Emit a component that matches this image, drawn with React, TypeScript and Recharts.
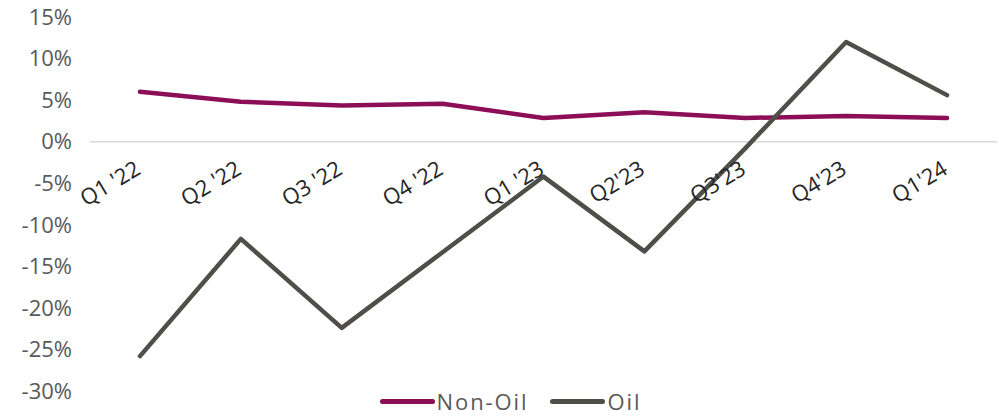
import React from "react";
import { LineChart, Line, XAxis, YAxis, ReferenceLine, Legend } from "recharts";

const categories = ["Q1 '22", "Q2 '22", "Q3 '22", "Q4 '22", "Q1 '23", "Q2'23", "Q3'23", "Q4'23", "Q1'24"];
const nonOil = [6.0, 4.8, 4.35, 4.55, 2.85, 3.55, 2.85, 3.1, 2.85];
const oil = [-25.8, -11.7, -22.4, -13.3, -4.2, -13.2, -0.8, 12.0, 5.6];
const yTicks = [15, 10, 5, 0, -5, -10, -15, -20, -25, -30];

const data = categories.map((q, i) => ({ q, nonOil: nonOil[i], oil: oil[i] }));

const FONT = "'Open Sans', sans-serif";

const XTick = (props: any) => {
  const { x, y, payload } = props;
  return (
    <g transform={`translate(${x + 2},${y - 218})`}>
      <text x={0} y={0} textAnchor="end" transform="rotate(-31)" fill="#262626" fontSize={22} fontFamily={FONT}>
        {payload.value}
      </text>
    </g>
  );
};

const LegendContent = (props: any) => {
  const { payload } = props;
  return (
    <div style={{ display: "flex", justifyContent: "center", alignItems: "center", paddingLeft: 24, height: 30, marginTop: -6 }}>
      {payload.map((p: any, i: number) => (
        <div key={p.value} style={{ display: "flex", alignItems: "center", marginRight: i === 0 ? 22 : 0 }}>
          <div style={{ width: 55, height: 5, borderRadius: 3, background: p.color, marginRight: 2 }} />
          <span style={{ fontFamily: FONT, fontSize: 22, lineHeight: "30px", color: "#595959", letterSpacing: 1.9 }}>{p.value}</span>
        </div>
      ))}
    </div>
  );
};

export default function App() {
  return (
    <div style={{ position: "absolute", left: 0, top: 0, width: 999, height: 416, background: "#fff" }}>
      <LineChart width={999} height={416} data={data} margin={{ top: 17, right: 2, bottom: 0, left: 0 }}>
        <XAxis
          dataKey="q"
          height={1}
          axisLine={false}
          tickLine={false}
          tickSize={0}
          tickMargin={0}
          tick={<XTick />}
          interval={0}
          padding={{ left: 50, right: 50 }}
        />
        <YAxis
          domain={[-30, 15]}
          ticks={yTicks}
          width={90}
          axisLine={false}
          tickLine={false}
          tickSize={0}
          tickMargin={18}
          tickFormatter={(v: number) => `${v}%`}
          tick={{ fill: "#595959", fontSize: 22, fontFamily: FONT }}
          interval={0}
        />
        <ReferenceLine y={0} stroke="#D9D9D9" strokeWidth={1.5} />
        <Legend verticalAlign="bottom" height={24} content={<LegendContent />} />
        <Line dataKey="nonOil" name="Non-Oil" stroke="#8B0E57" strokeWidth={4.5} strokeLinecap="round" strokeLinejoin="round" dot={false} isAnimationActive={false} />
        <Line dataKey="oil" name="Oil" stroke="#4F4E48" strokeWidth={4.5} strokeLinecap="round" strokeLinejoin="round" dot={false} isAnimationActive={false} />
      </LineChart>
    </div>
  );
}
